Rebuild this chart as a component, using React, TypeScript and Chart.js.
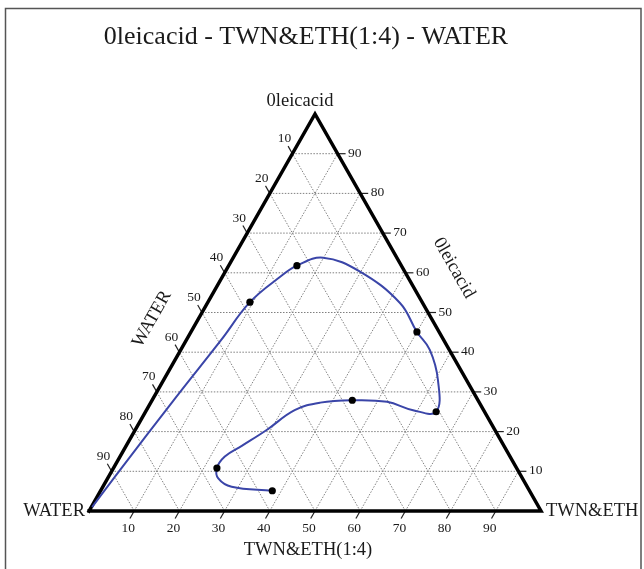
import { useEffect, useRef } from "react";
import { Chart, registerables } from "chart.js";

Chart.register(...registerables);

const TITLE = "0leicacid - TWN&ETH(1:4) - WATER";
const TOP_LABEL = "0leicacid";
const LEFT_AXIS_LABEL = "WATER";
const RIGHT_AXIS_LABEL = "0leicacid";
const BOTTOM_AXIS_LABEL = "TWN&ETH(1:4)";
const LEFT_CORNER_LABEL = "WATER";
const RIGHT_CORNER_LABEL = "TWN&ETH";

const TICKS = [10, 20, 30, 40, 50, 60, 70, 80, 90];

// Measured compositions (TWN&ETH %, Oleic acid %); water = 100 - both
const dotTwn = [9.3, 15.1, 50.0, 64.3, 44.3, 22.9, 38.0];
const dotOleic = [52.6, 61.8, 45.1, 25.0, 27.9, 10.8, 5.1];

// Boundary curve traced through the points
const curveTwn = [
  0.2, 1.7, 4.8, 7.7, 9.3, 12.8, 15.1, 19.9, 29.8, 42.6, 50.0, 55.1, 60.7, 64.3,
  59.0, 52.2, 44.3, 37.5, 32.8, 29.1, 25.6, 23.2, 22.9, 24.5, 28.5, 38.0,
];
const curveOleic = [
  1.0, 10.3, 28.0, 43.1, 52.6, 59.0, 61.8, 63.8, 60.3, 52.4, 45.1, 40.6, 33.0, 25.0,
  25.4, 27.5, 27.9, 27.3, 25.4, 20.4, 16.4, 13.7, 10.8, 8.2, 6.1, 5.1,
];

const SERIF = "'Liberation Serif', 'Times New Roman', serif";

function toXY(t: number, o: number) {
  return { x: t + o / 2, y: o };
}

export default function App() {
  const ref = useRef<HTMLCanvasElement | null>(null);

  useEffect(() => {
    if (!ref.current) return;
    const datasets: any[] = [];

    // dots
    datasets.push({
      data: dotTwn.map((t, i) => toXY(t, dotOleic[i])),
      showLine: false,
      pointRadius: 3.6,
      pointBackgroundColor: "#000",
      pointBorderColor: "#000",
      pointBorderWidth: 0,
      clip: false,
    });
    // curve
    datasets.push({
      data: curveTwn.map((t, i) => toXY(t, curveOleic[i])),
      showLine: true,
      tension: 0.4,
      borderColor: "#3a45a8",
      borderWidth: 2,
      pointRadius: 0,
      clip: false,
    });
    // triangle border
    datasets.push({
      data: [toXY(0, 0), toXY(100, 0), toXY(0, 100), toXY(0, 0)],
      showLine: true,
      borderColor: "#000",
      borderWidth: 3.5,
      borderJoinStyle: "miter",
      borderCapStyle: "square",
      pointRadius: 0,
      clip: false,
    });
    // ticks
    const tickLen = 1.9;
    const rightLen = 1.77;
    TICKS.forEach((k) => {
      datasets.push({
        data: [toXY(0, 100 - k), toXY(-tickLen, 100 - k + tickLen)],
        showLine: true,
        borderColor: "#222",
        borderWidth: 1.2,
        pointRadius: 0,
        clip: false,
      });
      datasets.push({
        data: [toXY(100 - k, k), toXY(100 - k + rightLen, k)],
        showLine: true,
        borderColor: "#222",
        borderWidth: 1.2,
        pointRadius: 0,
        clip: false,
      });
      datasets.push({
        data: [toXY(k, 0), toXY(k, -tickLen)],
        showLine: true,
        borderColor: "#222",
        borderWidth: 1.2,
        pointRadius: 0,
        clip: false,
      });
    });
    // grid
    TICKS.forEach((k) => {
      const segs = [
        [toXY(0, k), toXY(100 - k, k)],
        [toXY(k, 0), toXY(k, 100 - k)],
        [toXY(100 - k, 0), toXY(0, 100 - k)],
      ];
      segs.forEach((s) =>
        datasets.push({
          data: s,
          showLine: true,
          borderColor: "#808080",
          borderWidth: 1,
          borderDash: [1.5, 1.5],
          pointRadius: 0,
          clip: false,
        })
      );
    });

    const textPlugin = {
      id: "ternaryText",
      beforeDraw(chart: any) {
        const ctx = chart.ctx;
        ctx.save();
        ctx.strokeStyle = "#555";
        ctx.lineWidth = 1.5;
        ctx.strokeRect(5.5, 8.5, 635.5, 600);
        ctx.restore();
      },
      afterDatasetsDraw(chart: any) {
        const ctx = chart.ctx;
        const xs = chart.scales.x;
        const ys = chart.scales.y;
        const px = (t: number, o: number) => {
          const p = toXY(t, o);
          return [xs.getPixelForValue(p.x), ys.getPixelForValue(p.y)];
        };
        ctx.save();
        ctx.fillStyle = "#1a1a1a";
        ctx.textBaseline = "middle";

        ctx.font = `26px ${SERIF}`;
        ctx.textAlign = "center";
        ctx.fillText(TITLE, 306, 37);

        ctx.font = `18.5px ${SERIF}`;
        ctx.fillText(TOP_LABEL, 300, 101);
        ctx.fillText(BOTTOM_AXIS_LABEL, 308, 550);
        const [lx, ly] = px(0, 0);
        ctx.textAlign = "right";
        ctx.fillText(LEFT_CORNER_LABEL, lx - 4, ly + 0.5);
        const [rx, ry] = px(100, 0);
        ctx.textAlign = "left";
        ctx.fillText(RIGHT_CORNER_LABEL, rx + 5, ry + 0.5);

        const [ax, ay] = px(0, 0);
        const [bx, by] = px(0, 100);
        const ang = Math.atan2(by - ay, bx - ax);
        ctx.textAlign = "center";
        ctx.save();
        ctx.translate(152, 319);
        ctx.rotate(ang);
        ctx.fillText(LEFT_AXIS_LABEL, 0, 0);
        ctx.restore();
        ctx.save();
        ctx.translate(454, 268);
        ctx.rotate(-ang);
        ctx.fillText(RIGHT_AXIS_LABEL, 0, 0);
        ctx.restore();

        ctx.font = `13.5px ${SERIF}`;
        TICKS.forEach((k) => {
          const [x1, y1] = px(0, 100 - k);
          ctx.textAlign = "center";
          ctx.fillText(String(k), x1 - 8, y1 - 15);
          const [x2, y2] = px(100 - k, k);
          ctx.textAlign = "left";
          ctx.fillText(String(k), x2 + 10.5, y2 - 0.5);
          const [x3, y3] = px(k, 0);
          ctx.textAlign = "center";
          ctx.fillText(String(k), x3 - 6, y3 + 17);
        });
        ctx.restore();
      },
    };

    const chart = new Chart(ref.current, {
      type: "scatter",
      data: { datasets },
      options: {
        animation: false,
        responsive: false,
        devicePixelRatio: 1,
        events: [],
        layout: { padding: { left: 89, right: 103, top: 114, bottom: 58 } },
        scales: {
          x: { type: "linear", min: 0, max: 100, display: false },
          y: { type: "linear", min: 0, max: 100, display: false },
        },
        plugins: {
          legend: { display: false },
          tooltip: { enabled: false },
          title: { display: false },
        },
      },
      plugins: [textPlugin],
    });
    return () => chart.destroy();
  }, []);

  return (
    <div style={{ position: "absolute", left: 0, top: 0, width: 644, height: 569, background: "#fff" }}>
      <canvas ref={ref} width={644} height={569} style={{ width: 644, height: 569, display: "block" }} />
    </div>
  );
}
